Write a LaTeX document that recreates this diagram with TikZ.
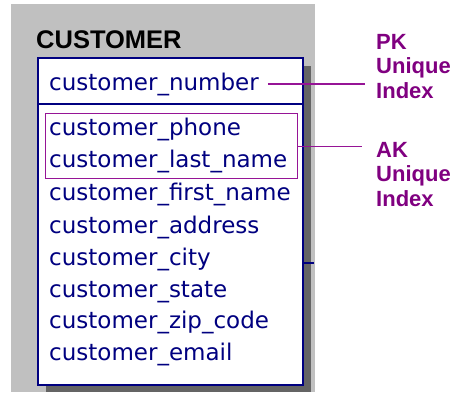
\documentclass[tikz,border=0pt]{standalone}
\usepackage{fontspec}
\usetikzlibrary{positioning}
\newfontfamily\fieldfont{DejaVu Sans}
\newfontfamily\labelfont{Liberation Sans}
\definecolor{entnavy}{RGB}{0,0,128}
\definecolor{keypurple}{RGB}{128,0,128}
\definecolor{keymagenta}{RGB}{150,20,150}
\definecolor{bggray}{RGB}{192,192,192}
\definecolor{shadowgray}{RGB}{100,100,100}
\tikzset{
  field/.style={anchor=base west, inner sep=0pt, text=entnavy,
    font=\fieldfont\fontsize{23}{26}\selectfont},
  keylabel/.style={anchor=north west, inner sep=0pt, align=left, text=keypurple,
    font=\labelfont\bfseries\fontsize{22}{24.5}\selectfont},
  keyline/.style={draw=keymagenta, line width=1.2pt},
}
\begin{document}
\begin{tikzpicture}[x=1pt,y=-1pt]
\useasboundingbox (0,0) rectangle (457,392);

% Gray background and entity shadow
\fill[bggray] (11,4) rectangle (315,392);
\fill[shadowgray] (46,66) rectangle (311,392);

% Entity box
\node (cust) [draw=entnavy, line width=2pt, fill=white, anchor=north west,
  inner sep=0pt, minimum width=265pt, minimum height=327pt] at (37,57) {};
\node (title) [anchor=base west, inner sep=0pt,
  font=\labelfont\bfseries\fontsize{25.5}{28}\selectfont] at (36,48) {CUSTOMER};

% Key area / non-key area divider
\coordinate (split) at (0,104);
\draw[entnavy, line width=1.6pt] (cust.west |- split) -- (cust.east |- split);

% Columns
\node (num)   [field] at (49,90)  {customer\_number};
\node (phone) [field] at (49,135) {customer\_phone};
\node (last)  [field] at (49,167) {customer\_last\_name};
\node (first) [field] at (49,200) {customer\_first\_name};
\node (addr)  [field] at (49,233) {customer\_address};
\node (city)  [field] at (49,265) {customer\_city};
\node (state) [field] at (49,297) {customer\_state};
\node (zip)   [field] at (49,328) {customer\_zip\_code};
\node (email) [field] at (49,360) {customer\_email};

% Alternate key box
\node (akbox) [draw=keymagenta, line width=1.2pt, anchor=north west, inner sep=0pt,
  minimum width=252pt, minimum height=65pt] at (45,113) {};

% Relationship stub
\coordinate (stub) at (314,263);
\draw[entnavy, line width=1.6pt] (cust.east |- stub) -- (stub);

% Key labels
\node (pklbl) [keylabel] at (376,34) {PK\\Unique\\Index};
\node (aklbl) [keylabel] at (376,142) {AK\\Unique\\Index};

\draw[keyline] ([xshift=9pt]num.east) -- ([xshift=-11pt]pklbl.west |- num.east);
\draw[keyline] (akbox.east) -- ([xshift=-14pt]aklbl.west |- akbox.east);

\end{tikzpicture}
\end{document}
